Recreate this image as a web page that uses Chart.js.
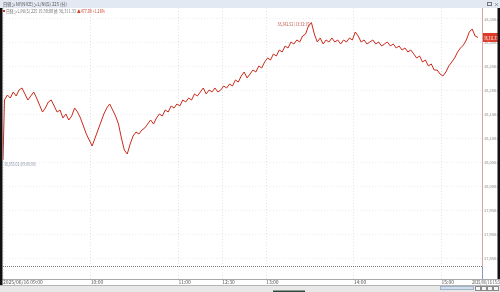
<!DOCTYPE html>
<html>
<head>
<meta charset="utf-8">
<script src="https://cdn.jsdelivr.net/npm/chart.js@4.4.1/dist/chart.umd.min.js"></script>
<style>
  html, body { margin: 0; padding: 0; background: #fff; overflow: hidden; }
  canvas { display: block; }
</style>
</head>
<body>
<canvas id="chart" width="500" height="292"></canvas>
<script>
'use strict'

// 09:00 first print, then one value every 2 minutes (09:01 .. 11:29)
const openPrice = 38055.02
const amPrices = [
  38180.55, 38191.02, 38184.71, 38197.33, 38188.92, 38201.48, 38205.66, 38193.10, 38180.47, 38188.95,
  38197.30, 38184.68, 38170.12, 38155.41, 38163.80, 38176.36, 38180.52, 38168.04, 38155.38, 38159.61,
  38142.90, 38151.27, 38138.72, 38147.09, 38163.83, 38155.44, 38142.88, 38126.21, 38109.43, 38096.87,
  38084.30, 38101.06, 38117.81, 38134.54, 38151.25, 38163.79, 38172.18, 38159.63, 38147.05, 38130.33,
  38101.12, 38075.94, 38067.58, 38088.47, 38105.23, 38113.61, 38109.40, 38117.84, 38122.02, 38130.29,
  38138.74, 38130.31, 38142.93, 38151.30, 38147.11, 38159.58, 38155.42, 38168.01, 38163.77, 38172.20,
  38168.03, 38180.49, 38176.38, 38184.74, 38180.51, 38193.08, 38188.90, 38197.28, 38205.69, 38193.12,
  38201.47, 38197.31, 38205.72, 38197.35, 38201.50
]
// afternoon session, one value every 2 minutes (12:31 .. 15:25)
const pmPrices = [
  38209.81, 38205.68, 38214.03, 38209.84, 38222.41, 38218.19, 38230.77, 38239.12, 38226.58, 38234.93,
  38243.30, 38239.15, 38251.69, 38247.52, 38260.04, 38268.41, 38264.22, 38276.80, 38272.59, 38285.13,
  38280.97, 38293.52, 38289.34, 38301.88, 38297.70, 38306.09, 38301.91, 38314.43, 38318.62, 38335.38,
  38342.52, 38318.58, 38301.93, 38310.27, 38297.73, 38306.12, 38301.86, 38310.30, 38301.90, 38306.07,
  38297.69, 38306.11, 38301.94, 38310.25, 38306.08, 38322.79, 38314.41, 38301.87, 38306.13, 38297.72,
  38301.89, 38306.10, 38297.75, 38301.92, 38293.49, 38297.71, 38301.85, 38293.54, 38297.68, 38289.32,
  38293.51, 38285.14, 38289.30, 38280.99, 38285.11, 38276.83, 38268.39, 38272.61, 38260.02, 38264.20,
  38251.72, 38255.88, 38243.28, 38243.33, 38234.90, 38230.79, 38239.14, 38251.70, 38260.01, 38268.43,
  38281.02, 38289.31, 38295.58, 38306.14, 38322.81, 38329.07, 38314.40, 38311.33
]
const prevClose = 37834.25
const closePrice = 38311.33
const highPrice = 38342.52
const highLabel = '38,342.52 (13:32:15)'
const lowLabel = '38,055.02 (09:00:00)'

// x positions are session minutes (09:00 = 0, lunch break removed, 12:30 = 150)
const tickMinutes = [0, 60, 120, 150, 180, 240, 300]
const tickLabels = ['2025/06/16 09:00', '10:00', '11:00', '12:30', '13:00', '14:00', '15:00']
const priceTicks = [37850, 37900, 37950, 38000, 38050, 38100, 38150, 38200, 38250, 38300, 38350]

const points = [{x: 0, y: openPrice}]
amPrices.forEach((v, i) => points.push({x: 1 + i * 2, y: v}))
pmPrices.forEach((v, i) => points.push({x: 151 + i * 2, y: v}))

const FONT = "'Noto Sans CJK JP', 'Noto Sans', sans-serif"
const fmt = v => v.toLocaleString('en-US', {minimumFractionDigits: 2, maximumFractionDigits: 2})

const frame = {
  id: 'frame',
  beforeDraw(chart) {
    const c = chart.ctx
    c.save()
    c.fillStyle = '#fff'
    c.fillRect(0, 0, chart.width, chart.height)
    c.restore()
  },
  afterDraw(chart) {
    const c = chart.ctx
    const xs = chart.scales.x
    const ys = chart.scales.y
    const a = chart.chartArea
    c.save()

    // previous close
    const py = Math.round(ys.getPixelForValue(prevClose)) + 0.5
    c.lineWidth = 1
    c.strokeStyle = '#7a7a7a'
    c.setLineDash([1, 1])
    c.beginPath(); c.moveTo(a.left, py); c.lineTo(a.right, py); c.stroke()
    c.setLineDash([])

    // price axis line, red above prev close, blue below
    const rx = Math.round(a.right) + 0.5
    c.strokeStyle = '#dca3a3'
    c.beginPath(); c.moveTo(rx, a.top); c.lineTo(rx, py); c.stroke()
    c.strokeStyle = '#7f9cc6'
    c.beginPath(); c.moveTo(rx, py); c.lineTo(rx, a.bottom); c.stroke()

    // time axis line
    c.strokeStyle = '#a8a8a8'
    c.beginPath(); c.moveTo(0, Math.round(a.bottom) + 0.5); c.lineTo(chart.width, Math.round(a.bottom) + 0.5); c.stroke()

    // header bar
    c.fillStyle = '#e2e9f2'
    c.fillRect(0, 0, chart.width, 8)
    c.font = '5px ' + FONT
    c.textBaseline = 'middle'
    c.textAlign = 'left'
    c.fillStyle = '#555'
    c.fillText('日経＞NY(NICE)＞L/NI(S) 225 (分)', 3, 4.5, 64)
    c.strokeStyle = '#777'
    c.strokeRect(487.5, 2.5, 4, 3)
    c.fillText('×', 494, 4.5)

    // legend line
    c.fillStyle = '#cc3322'
    c.fillRect(3, 10, 2, 2)
    c.fillStyle = '#777'
    c.fillText('日経＞L/NI(S) 225 15:30:00 終 ' + fmt(closePrice), 6, 11.5, 70)
    c.fillStyle = '#d04030'
    c.fillText('▲477.08 +1.26%', 77, 11.5, 28)

    // high / low markers
    const hx = xs.getPixelForValue(211)
    const hy = ys.getPixelForValue(highPrice)
    c.textAlign = 'right'
    c.fillStyle = '#c45a50'
    c.fillText(highLabel, hx - 1, hy + 1.5, 33)
    const ly = ys.getPixelForValue(openPrice)
    c.textAlign = 'left'
    c.fillStyle = '#8a94aa'
    c.fillText(lowLabel, 4, ly + 4, 32)

    // current price box
    const cy = ys.getPixelForValue(closePrice)
    c.fillStyle = '#dd3b2a'
    c.fillRect(a.right + 1, cy - 4.5, chart.width - a.right - 1, 9)
    c.fillStyle = '#fff'
    c.fillText(fmt(closePrice), a.right + 2, cy + 0.5, 14)

    // cursor time on axis
    c.fillStyle = '#fff'
    c.fillRect(471, a.bottom + 1, 29, 5)
    c.fillStyle = '#555'
    c.fillText('2025/06/16 15:30', 472, a.bottom + 3.5, 30)

    // scrollbar
    const sb = a.bottom + 6
    c.fillStyle = '#e8e8e8'
    c.fillRect(0, sb, chart.width, chart.height - sb)
    c.strokeStyle = '#b5b5b5'
    c.beginPath(); c.moveTo(0, sb + 0.5); c.lineTo(chart.width, sb + 0.5); c.stroke()
    c.fillStyle = '#d3deeb'
    c.fillRect(440, sb + 2, 33, 3)
    c.strokeStyle = '#9eb2ca'
    c.strokeRect(440.5, sb + 1.5, 33, 3)
    c.strokeStyle = '#8a8a8a'
    c.fillStyle = '#f6f6f6'
    for (const bx of [475, 481, 487, 493]) {
      c.fillRect(bx + 0.5, sb + 1.5, 5, 4)
      c.strokeRect(bx + 0.5, sb + 1.5, 5, 4)
    }
    c.fillStyle = '#2f4b3c'
    c.fillRect(273, chart.height - 1.5, 32, 1.5)

    // window edges
    c.fillStyle = '#111'
    c.fillRect(0, 8, 2.5, sb - 8)
    c.fillRect(497.5, 8, 2.5, a.bottom - 8)
    c.restore()
  }
}

const ctx = document.getElementById('chart')
new Chart(ctx, {
  type: 'line',
  data: {
    datasets: [{
      data: points,
      borderColor: '#cc2a1c',
      borderWidth: 1,
      pointRadius: 0,
      tension: 0
    }]
  },
  options: {
    responsive: false,
    animation: false,
    parsing: false,
    layout: { padding: { left: 3, top: 8, right: 0, bottom: 7 } },
    plugins: { legend: { display: false }, tooltip: { enabled: false } },
    scales: {
      x: {
        type: 'linear',
        min: 0,
        max: 327.7,
        afterBuildTicks: s => { s.ticks = tickMinutes.map(v => ({value: v})) },
        afterFit: s => { s.height = 6 },
        grid: { color: '#e3e3e3', drawTicks: false },
        border: { display: false, dash: [1, 2] },
        ticks: {
          autoSkip: false,
          maxRotation: 0,
          align: 'start',
          padding: 0,
          color: '#555',
          font: { family: FONT, size: 5 },
          callback: v => tickLabels[tickMinutes.indexOf(v)]
        }
      },
      y: {
        position: 'right',
        min: 37806.1,
        max: 38373,
        afterBuildTicks: s => { s.ticks = priceTicks.map(v => ({value: v})) },
        afterFit: s => { s.width = 18 },
        grid: { color: '#ececec', drawTicks: false },
        border: { display: false, dash: [1, 2] },
        ticks: {
          padding: 2,
          color: '#8a8a8a',
          font: { family: FONT, size: 4 },
          callback: v => fmt(v)
        }
      }
    }
  },
  plugins: [frame]
})
</script>
</body>
</html>
